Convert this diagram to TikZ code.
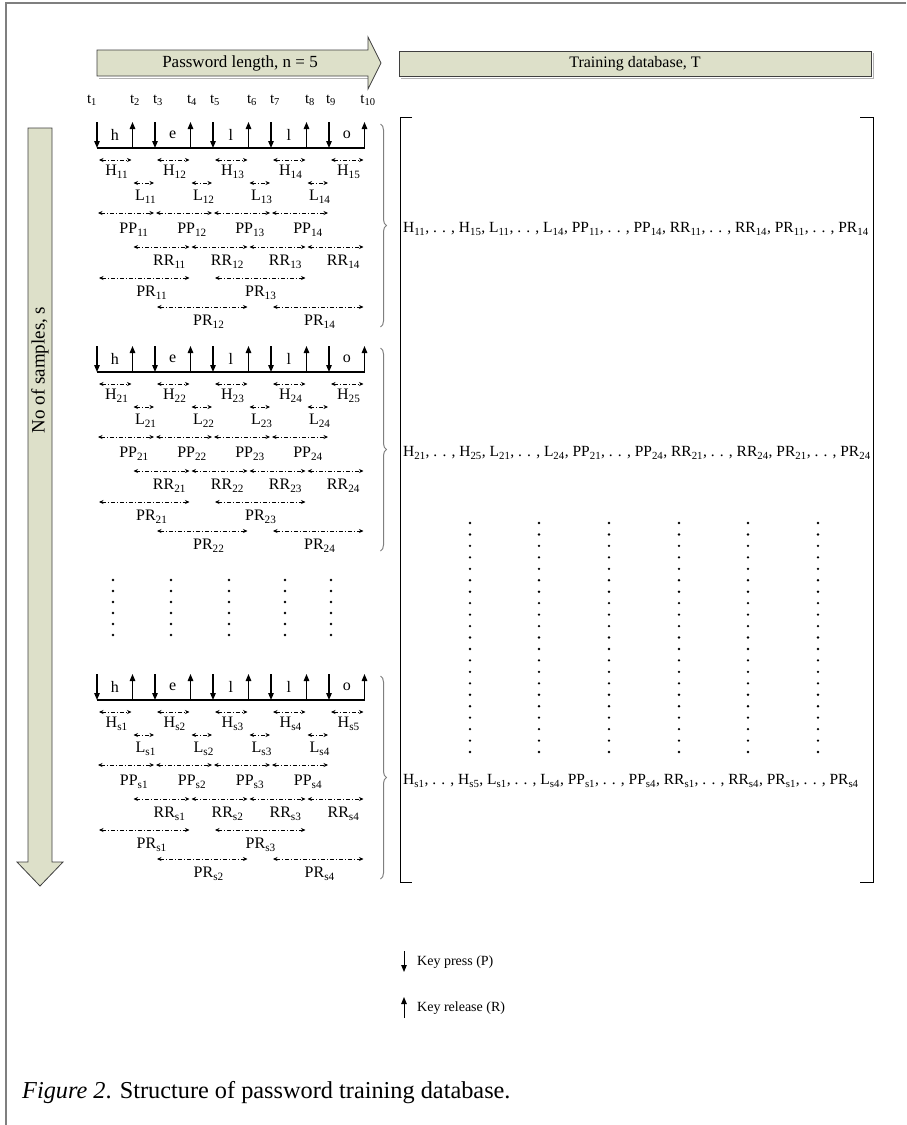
\documentclass[tikz,border=0pt]{standalone}
\usepackage{fontspec}
\setmainfont{Liberation Serif}
\usetikzlibrary{arrows.meta,calc,decorations.pathreplacing}
\definecolor{sage}{HTML}{DDE0C9}
\definecolor{framegray}{HTML}{7F7F7F}
\definecolor{shapeedge}{HTML}{3F3F3F}
\newcommand\sbs[1]{\textsubscript{#1}}
\tikzset{
  lbl/.style={font=\fontsize{16}{18}\selectfont, inner sep=0pt},
  rowlbl/.style={font=\fontsize{15.5}{18}\selectfont, inner sep=0pt, anchor=west},
  tlbl/.style={font=\fontsize{15}{17}\selectfont, inner sep=0pt},
  leg/.style={font=\fontsize{14}{16}\selectfont, inner sep=0pt, anchor=west},
  keyline/.style={line width=1.2pt},
  keyarrow/.style={line width=1.2pt, -{Triangle[length=7pt,width=5.5pt]}},
  meas/.style={line width=0.6pt, dash pattern=on 4pt off 2pt on 1pt off 2pt,
    {Stealth[length=4.5pt,width=4pt]}-{Stealth[length=4.5pt,width=4pt]}},
  shapebox/.style={draw=shapeedge, fill=sage, line width=0.8pt},
  bracestyle/.style={draw=framegray, line width=1pt, decorate,
    decoration={brace, amplitude=6pt}},
  bracket/.style={line width=1pt, draw=black},
  dotcol/.style={fill=black}
}
\newcommand\drawblock[3]{%
  \foreach \i in {1,...,5}{%
    \coordinate (#1d\i) at ({97+58*(\i-1)},#3);
    \coordinate (#1u\i) at ({132.5+58*(\i-1)},#3);
  }%
  \draw[keyline] (#1d1) -- (#1u5);
  \foreach \i/\ch in {1/h,2/e,3/l,4/l,5/o}{%
    \draw[keyarrow] ($(#1d\i)+(0,-26)$) -- (#1d\i);
    \draw[keyarrow] (#1u\i) -- ($(#1u\i)+(0,-26)$);
    \node[lbl] (#1k\i) at ($(#1d\i)!0.5!(#1u\i)+(0,-13)$) {\ch};
    \draw[meas] ($(#1d\i)+(2,12)$) -- ($(#1u\i)+(-1,12)$);
    \node[lbl] (#1H\i) at ($(#1d\i)!0.5!(#1u\i)+(2,24)$) {H\sbs{#2\i}};
  }%
  \foreach \i/\j in {1/2,2/3,3/4,4/5}{%
    \draw[meas] ($(#1u\i)+(1,35)$) -- ($(#1d\j)+(-1,35)$);
    \node[lbl] (#1L\i) at ($(#1u\i)!0.5!(#1d\j)+(2,49)$) {L\sbs{#2\i}};
    \draw[meas] ($(#1d\i)+(1,65)$) -- ($(#1d\j)+(-1,65)$);
    \node[lbl] (#1PP\i) at ($(#1d\i)!0.5!(#1d\j)+(8,82)$) {PP\sbs{#2\i}};
    \draw[meas] ($(#1u\i)+(1,99)$) -- ($(#1u\j)+(-1,99)$);
    \node[lbl] (#1RR\i) at ($(#1u\i)!0.5!(#1u\j)+(8,114)$) {RR\sbs{#2\i}};
  }%
  \foreach \i/\j/\o in {1/2/8,3/4/1}{%
    \draw[meas] ($(#1d\i)+(2,130)$) -- ($(#1u\j)+(-1,130)$);
    \node[lbl] (#1PR\i) at ($(#1d\i)!0.5!(#1u\j)+(\o,145)$) {PR\sbs{#2\i}};
  }%
  \foreach \i/\j/\o in {2/3/7,4/5/2}{%
    \draw[meas] ($(#1d\i)+(2,159)$) -- ($(#1u\j)+(-1,159)$);
    \node[lbl] (#1PR\i) at ($(#1d\i)!0.5!(#1u\j)+(\o,174)$) {PR\sbs{#2\i}};
  }%
  \coordinate (#1bt) at ($(#1u5)+(16,-24)$);
  \coordinate (#1bb) at ($(#1u5)+(16,179)$);
  \draw[bracestyle] (#1bt) -- (#1bb);
  \node[rowlbl] (#1row) at ({403},{#3+81}) {H\sbs{#21}, . . , H\sbs{#25}, L\sbs{#21}, . . , L\sbs{#24}, PP\sbs{#21}, . . , PP\sbs{#24}, RR\sbs{#21}, . . , RR\sbs{#24}, PR\sbs{#21}, . . , PR\sbs{#24}};
}
\begin{document}
\begin{tikzpicture}[x=1pt,y=-1pt]
\useasboundingbox (0,0) rectangle (906,1125);
% outer frame
\draw[framegray, line width=1.5pt] (5,3) -- (906,3);
\draw[framegray, line width=1.5pt] (6,3) -- (6,1125);
% header shapes
\draw[framegray!60, line width=1pt] (99,78) -- (370,78);
\draw[shapebox] (97,50) -- (368,50) -- (368,37) -- (381,63) -- (368,89) -- (368,76) -- (97,76) -- cycle;
\node[lbl, font=\fontsize{17}{19}\selectfont] (plen) at (240,63) {Password length, n = 5};
\draw[framegray!60, line width=1pt] (401,78) -- (873,78) -- (873,53);
\draw[shapebox] (399,51) rectangle (871,76);
\node[lbl] (tdb) at (635,63.5) {Training database, T};
% vertical samples arrow
\draw[shapebox] (28,128) -- (52,128) -- (52,862) -- (63,862) -- (40,886) -- (17,862) -- (28,862) -- cycle;
\node[lbl, rotate=90, font=\fontsize{19}{21}\selectfont] (nsamp) at (40,370) {No of samples, s};
% time labels
\foreach \x/\k in {92/1,135/2,158/3,192/4,215/5,252/6,275/7,310/8,331/9,368/10}{
  \node[tlbl] (t\k) at (\x,100) {t\sbs{\k}};
}
% blocks
\drawblock{a}{1}{148}
\drawblock{b}{2}{372}
\drawblock{c}{s}{700}
% left vertical dots
\foreach \x in {113,171,229,285,331}{
  \foreach \k in {0,...,5}{
    \fill[dotcol] (\x,{580+11*\k}) circle (1.3);
  }
}
% right vertical dots
\foreach \x in {470,539,609,679,748,818}{
  \foreach \k in {0,...,20}{
    \fill[dotcol] (\x,{523+11.45*\k}) circle (1.3);
  }
}
% matrix brackets
\draw[bracket] (412,117) -- (400,117) -- (400,882) -- (412,882);
\draw[bracket] (860,117) -- (873,117) -- (873,882) -- (860,882);
% legend
\coordinate (lpt) at (404,951);
\coordinate (lpb) at (404,972);
\coordinate (lrb) at (404,1018);
\coordinate (lrt) at (404,997);
\draw[keyarrow, line width=1pt] (lpt) -- (lpb);
\node[leg] (kpress) at (417,962) {Key press (P)};
\draw[keyarrow, line width=1pt] (lrb) -- (lrt);
\node[leg] (krel) at (417,1008) {Key release (R)};
% caption
\node[anchor=base west, inner sep=0pt, font=\fontsize{24.3}{28}\selectfont] (cap) at (22,1098) {\textit{Figure 2}. Structure of password training database.};
\end{tikzpicture}
\end{document}
